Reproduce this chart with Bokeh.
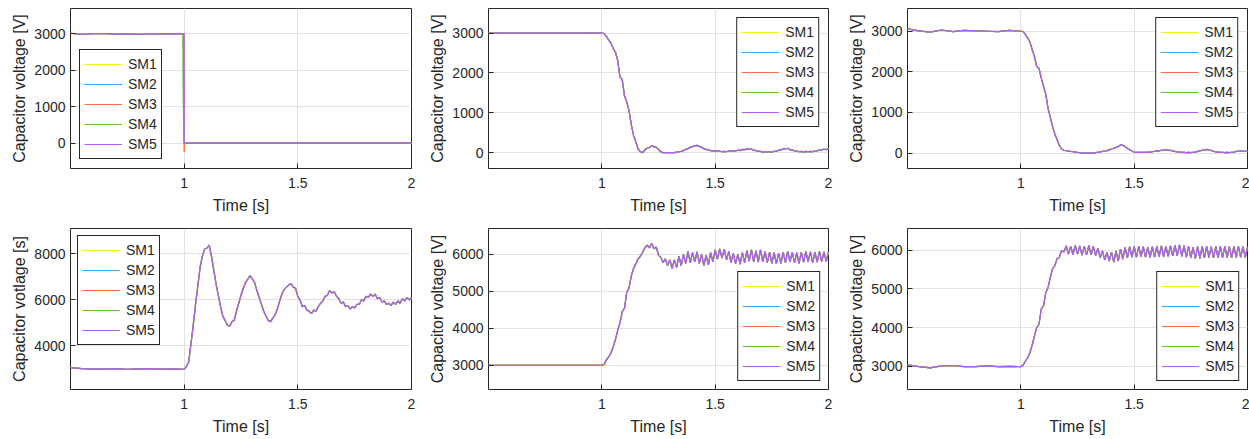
from bokeh.plotting import figure
from bokeh.layouts import row, column
from bokeh.models import Range1d, FixedTicker, NumeralTickFormatter
from bokeh.embed import file_html
from bokeh.resources import INLINE

# ---------------- data ----------------
sm_names = ["SM1", "SM2", "SM3", "SM4", "SM5"]
sm_colors = ["#f0f014", "#33a8ff", "#ff6e3a", "#5cc82c", "#b25cff"]

x_ticks = [1, 1.5, 2]
x_tick_labels = ["1", "1.5", "2"]
x_label = "Time [s]"

# panel 1 (own time base, step at t = 1 s)
t1 = [0.50, 0.55, 0.60, 0.65, 0.70, 0.75, 0.80, 0.85, 0.90, 0.95, 0.994, 0.995, 0.999, 1.000, 1.001, 1.50, 2.00]
v1_sm5 = [3020, 2990, 3005, 3010, 2995, 3000, 2990, 3005, 3000, 3010, 3000, 3000, 3000, 0, 0, 0, 0]
v1_sm4 = [3020, 2990, 3005, 3010, 2995, 3000, 2990, 3005, 3000, 3010, 3000, 1650, 0, 0, 0, 0, 0]
v1_sm3 = [3020, 2990, 3005, 3010, 2995, 3000, 2990, 3005, 3000, 3010, 3000, 3000, 3000, -260, 0, 0, 0]

# shared time base for panels 2-6
t_pre = [0.50, 0.55, 0.60, 0.65, 0.70, 0.75, 0.80, 0.85, 0.90, 0.95]
t_main = [1.00, 1.01, 1.02, 1.03, 1.04, 1.05, 1.06, 1.07, 1.08, 1.09,
          1.10, 1.11, 1.12, 1.13, 1.14, 1.15, 1.16, 1.17, 1.18, 1.19,
          1.20, 1.21, 1.22, 1.23, 1.24, 1.25, 1.26, 1.27, 1.28, 1.29,
          1.30, 1.31, 1.32, 1.33, 1.34, 1.35, 1.36, 1.37, 1.38, 1.39,
          1.40, 1.41, 1.42, 1.43, 1.44, 1.45, 1.46, 1.47, 1.48, 1.49,
          1.50, 1.51, 1.52, 1.53, 1.54, 1.55, 1.56, 1.57, 1.58, 1.59,
          1.60, 1.61, 1.62, 1.63, 1.64, 1.65, 1.66, 1.67, 1.68, 1.69,
          1.70, 1.71, 1.72, 1.73, 1.74, 1.75, 1.76, 1.77, 1.78, 1.79,
          1.80, 1.81, 1.82, 1.83, 1.84, 1.85, 1.86, 1.87, 1.88, 1.89,
          1.90, 1.91, 1.92, 1.93, 1.94, 1.95, 1.96, 1.97, 1.98, 1.99,
          2.00]

v2_pre = [3000, 3000, 3000, 3000, 3000, 3000, 3000, 3000, 3000, 3000]
v2_main = [3000, 2990, 2920, 2830, 2750, 2620, 2520, 2320, 1900, 1830,
           1420, 1280, 1050, 700, 430, 270, 90, 20, 0, 70,
           110, 130, 170, 150, 130, 80, 20, 0, 0, 0,
           0, 0, 0, 10, 20, 30, 50, 80, 100, 130,
           150, 170, 180, 160, 130, 100, 80, 60, 50, 40,
           50, 30, 40, 20, 30, 20, 40, 30, 50, 40,
           60, 50, 80, 70, 100, 80, 90, 60, 50, 30,
           30, 10, 20, 10, 20, 10, 30, 30, 60, 60,
           100, 90, 110, 70, 70, 40, 40, 20, 30, 10,
           30, 20, 30, 20, 40, 40, 70, 60, 90, 70,
           100]

v3_pre = [3060, 3010, 2980, 3030, 2990, 3020, 3010, 3000, 2990, 3020]
v3_main = [3000, 2990, 2920, 2830, 2740, 2550, 2380, 2130, 2090, 1850,
           1650, 1450, 1100, 880, 650, 470, 330, 190, 100, 70,
           60, 50, 40, 35, 25, 15, 10, 5, 0, 0,
           0, 0, 5, 10, 20, 30, 40, 45, 60, 80,
           100, 120, 140, 160, 200, 190, 160, 120, 80, 50,
           20, 15, 20, 15, 20, 15, 25, 20, 35, 40,
           55, 50, 70, 75, 85, 70, 65, 55, 40, 30,
           25, 15, 20, 10, 15, 10, 20, 25, 40, 55,
           70, 80, 90, 70, 65, 45, 30, 25, 15, 20,
           10, 15, 10, 20, 25, 40, 45, 60, 50, 45,
           40]

v4_pre = [3050, 3010, 2990, 3000, 3010, 2980, 3000, 3010, 2990, 3000]
v4_main = [2980, 3100, 3300, 4100, 4900, 5800, 6600, 7400, 7900, 8200,
           8250, 8380, 7900, 7300, 6700, 6200, 5700, 5300, 5100, 4900,
           4850, 5050, 5100, 5500, 5850, 6200, 6500, 6750, 6900, 7050,
           6900, 6750, 6400, 6100, 5800, 5500, 5300, 5100, 5050, 5200,
           5350, 5600, 5950, 6250, 6450, 6550, 6650, 6700, 6550, 6500,
           6150, 5980, 5700, 5750, 5550, 5500, 5400, 5550, 5500, 5700,
           5850, 5950, 6150, 6200, 6400, 6300, 6350, 6150, 6050, 5850,
           5900, 5700, 5750, 5600, 5700, 5650, 5800, 5800, 6000, 5950,
           6150, 6100, 6250, 6150, 6250, 6050, 6100, 5900, 5950, 5800,
           5850, 5750, 5900, 5800, 5950, 5850, 6050, 5950, 6100, 6000,
           6100]

v5_pre = [3000, 3000, 3000, 3000, 3000, 3000, 3000, 3000, 3000, 3000]
v5_main = [3000, 3030, 3150, 3230, 3330, 3500, 3700, 3950, 4150, 4450,
           4550, 4980, 5100, 5420, 5620, 5750, 5880, 5950, 6050, 6180,
           6250, 6180, 6300, 6150, 6200, 5980, 5920, 5780, 5880, 5700,
           5850, 5620, 5850, 5650, 5950, 5700, 6000, 5760, 6080, 5780,
           6050, 5800, 6070, 5760, 6000, 5700, 5980, 5720, 6050, 5800,
           6120, 5870, 6150, 5900, 6140, 5850, 6080, 5780, 6030, 5750,
           6000, 5740, 6050, 5780, 6100, 5820, 6120, 5800, 6100, 5790,
           6120, 5800, 6080, 5780, 6060, 5760, 6050, 5750, 6030, 5760,
           6060, 5780, 6080, 5800, 6060, 5780, 6040, 5760, 6060, 5790,
           6080, 5800, 6070, 5780, 6060, 5790, 6080, 5800, 6070, 5810,
           6060]

v6_pre = [3040, 2990, 2960, 3010, 3020, 2990, 2990, 3010, 2990, 3000]
v6_main = [2990, 3030, 3130, 3220, 3350, 3550, 3780, 4000, 4080, 4480,
           4560, 4900, 5030, 5300, 5520, 5600, 5780, 5820, 5990, 5950,
           6110, 5900, 6100, 5880, 6120, 5900, 6110, 5870, 6100, 5880,
           6120, 5880, 6100, 5860, 6050, 5800, 5980, 5750, 5950, 5720,
           5950, 5690, 5980, 5720, 6030, 5770, 6070, 5800, 6090, 5820,
           6100, 5820, 6100, 5830, 6090, 5820, 6080, 5810, 6090, 5820,
           6100, 5830, 6110, 5830, 6100, 5840, 6110, 5850, 6130, 5850,
           6140, 5840, 6120, 5820, 6100, 5800, 6080, 5780, 6090, 5790,
           6100, 5800, 6100, 5810, 6090, 5800, 6100, 5800, 6100, 5810,
           6100, 5810, 6090, 5800, 6100, 5810, 6100, 5820, 6090, 5810,
           6080]

y_ticks_low = [0, 1000, 2000, 3000]
y_ticks_p4 = [4000, 6000, 8000]
y_ticks_high = [3000, 4000, 5000, 6000]

# ---------------- styling ----------------
FONT = "Liberation Sans"
INK = "#262626"
GRID = "#e2e2e2"


def panel(t, series, yr, yticks, ylabel, loc, lmargin, width, height, bl, br, bt, bb):
    p = figure(width=width, height=height, output_backend="svg", toolbar_location=None,
               x_range=Range1d(0.5, 2.0), y_range=Range1d(*yr),
               min_border_left=bl, min_border_right=br,
               min_border_top=bt, min_border_bottom=bb)
    for name, col, vals in zip(sm_names, sm_colors, series):
        p.line(t, vals, line_color=col, line_width=1.2, legend_label=name)

    p.outline_line_color = INK
    p.outline_line_width = 1
    p.outline_line_alpha = 1
    p.background_fill_color = "white"
    p.border_fill_color = "white"

    p.xaxis.ticker = FixedTicker(ticks=x_ticks)
    p.xaxis.formatter = NumeralTickFormatter(format="0.[0]")
    p.xaxis.major_label_overrides = {float(k): v for k, v in zip(x_ticks, x_tick_labels)}
    p.yaxis.ticker = FixedTicker(ticks=yticks)
    p.yaxis.formatter = NumeralTickFormatter(format="0")

    for ax in p.axis:
        ax.axis_line_color = None
        ax.major_tick_in = 5
        ax.major_tick_out = 0
        ax.major_tick_line_color = INK
        ax.minor_tick_line_color = None
        ax.major_label_text_font = FONT
        ax.major_label_text_font_size = "14px"
        ax.major_label_text_color = INK
        ax.axis_label_text_font = FONT
        ax.axis_label_text_font_size = "16px"
        ax.axis_label_text_font_style = "normal"
        ax.axis_label_text_color = INK

    p.xaxis.axis_label = x_label
    p.xaxis.major_label_standoff = 9
    p.xaxis.axis_label_standoff = 6
    p.yaxis.axis_label = ylabel
    p.yaxis.major_label_standoff = 5
    p.yaxis.axis_label_standoff = 3

    p.xgrid.grid_line_color = GRID
    p.ygrid.grid_line_color = GRID
    p.xgrid.grid_line_width = 1
    p.ygrid.grid_line_width = 1

    lg = p.legend[0]
    lg.location = loc
    lg.margin = lmargin
    lg.padding = 4
    lg.spacing = 0
    lg.label_height = 20
    lg.glyph_height = 20
    lg.glyph_width = 38
    lg.label_standoff = 6
    lg.label_text_font = FONT
    lg.label_text_font_size = "14px"
    lg.label_text_color = INK
    lg.border_line_color = INK
    lg.border_line_width = 1
    lg.border_line_alpha = 1
    lg.background_fill_color = "white"
    lg.background_fill_alpha = 1
    return p


tg = t_pre + t_main
v2 = v2_pre + v2_main
v3 = v3_pre + v3_main
v4 = v4_pre + v4_main
v5 = v5_pre + v5_main
v6 = v6_pre + v6_main

H1, H2 = 218, 221
f1 = panel(t1, [v1_sm5, v1_sm5, v1_sm3, v1_sm4, v1_sm5], (-700, 3700), y_ticks_low,
           "Capacitor voltage [V]", "bottom_left", 9, 416, H1, 70, 5, 8, 50)
f2 = panel(tg, [v2] * 5, (-400, 3620), y_ticks_low,
           "Capacitor voltage [V]", "top_right", 9, 417, H1, 72, 5, 8, 50)
f3 = panel(tg, [v3] * 5, (-380, 3560), y_ticks_low,
           "Capacitor voltage [V]", "top_right", 9, 416, H1, 74, 2, 8, 50)
f4 = panel(tg, [v4] * 5, (2100, 9100), y_ticks_p4,
           "Capacitor votlage [s]", "top_left", 7, 416, H2, 70, 5, 10, 50)
f5 = panel(tg, [v5] * 5, (2350, 6700), y_ticks_high,
           "Capacitor voltage [V]", "bottom_right", 8, 417, H2, 72, 5, 10, 50)
f6 = panel(tg, [v6] * 5, (2400, 6560), y_ticks_high,
           "Capacitor voltage [V]", "bottom_right", 8, 416, H2, 74, 2, 10, 50)

layout = column(row(f1, f2, f3, spacing=0), row(f4, f5, f6, spacing=0), spacing=0)

open("out.html", "w").write(file_html(layout, INLINE))
